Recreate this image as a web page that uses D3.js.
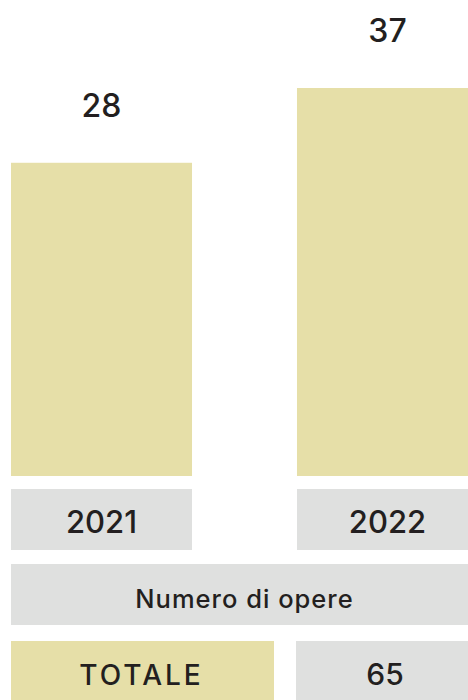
<!DOCTYPE html>
<html>
<head>
<meta charset="utf-8">
<script src="https://cdn.jsdelivr.net/npm/d3@7"></script>
<style>
  html, body { margin: 0; padding: 0; background: #fff; }
  text { font-family: "Inter", "Lato", sans-serif; font-weight: 500; fill: #231f20; }
</style>
</head>
<body>
<div id="chart"></div>
<script>
// data
var years = ["2021", "2022"];
var works = [28, 37];
var caption = "Numero di opere";
var totalLabel = "TOTALE";
var total = 65;

var W = 468, H = 700;
var khaki = "#e6dfa8", grey = "#dfe0df";

var svg = d3.select("#chart")
  .append("svg")
  .attr("width", W)
  .attr("height", H);

var data = years.map(function(y, i){ return {year: y, value: works[i]}; });

// bars: band scale runs past the right edge, the second bar is cut off like the original
var x = d3.scaleBand()
  .domain(years)
  .range([11, 478])
  .paddingInner(0.367);

var base = 476;
var y = d3.scaleLinear()
  .domain([-9.7, d3.max(works)])
  .range([base, 88]);

svg.selectAll(".bar")
  .data(data)
  .enter()
  .append("rect")
  .attr("class", "bar")
  .attr("x", function(d){ return x(d.year); })
  .attr("y", function(d){ return y(d.value); })
  .attr("width", x.bandwidth())
  .attr("height", function(d){ return base - y(d.value); })
  .style("fill", khaki);

svg.selectAll(".val")
  .data(data)
  .enter()
  .append("text")
  .attr("class", "val")
  .attr("x", function(d){ return x(d.year) + x.bandwidth()/2; })
  .attr("y", function(d){ return y(d.value) - 46; })
  .attr("text-anchor", "middle")
  .style("font-size", "32px")
  .text(function(d){ return d.value; });

// year boxes
svg.selectAll(".yearbox")
  .data(data)
  .enter()
  .append("rect")
  .attr("class", "yearbox")
  .attr("x", function(d){ return x(d.year); })
  .attr("y", 489)
  .attr("width", x.bandwidth())
  .attr("height", 61)
  .style("fill", grey);

svg.selectAll(".year")
  .data(data)
  .enter()
  .append("text")
  .attr("class", "year")
  .attr("x", function(d){ return x(d.year) + x.bandwidth()/2; })
  .attr("y", 533)
  .attr("text-anchor", "middle")
  .style("font-size", "31px")
  .text(function(d){ return d.year; });

// caption strip
svg.append("rect")
  .attr("x", 11).attr("y", 564)
  .attr("width", W - 11).attr("height", 61)
  .style("fill", grey);

svg.append("text")
  .attr("x", (11 + W)/2 + 5)
  .attr("y", 608)
  .attr("text-anchor", "middle")
  .style("font-size", "25.5px")
  .style("letter-spacing", "1px")
  .text(caption);

// total row
svg.append("rect")
  .attr("x", 11).attr("y", 641)
  .attr("width", 263).attr("height", 70)
  .style("fill", khaki);

svg.append("rect")
  .attr("x", 296).attr("y", 641)
  .attr("width", W - 296).attr("height", 70)
  .style("fill", grey);

svg.append("text")
  .attr("x", (11 + 274)/2 - 1)
  .attr("y", 685)
  .attr("text-anchor", "middle")
  .style("font-size", "28px")
  .style("letter-spacing", "3px")
  .text(totalLabel);

svg.append("text")
  .attr("x", (296 + W)/2 + 3)
  .attr("y", 685)
  .attr("text-anchor", "middle")
  .style("font-size", "30px")
  .text(total);
</script>
</body>
</html>
